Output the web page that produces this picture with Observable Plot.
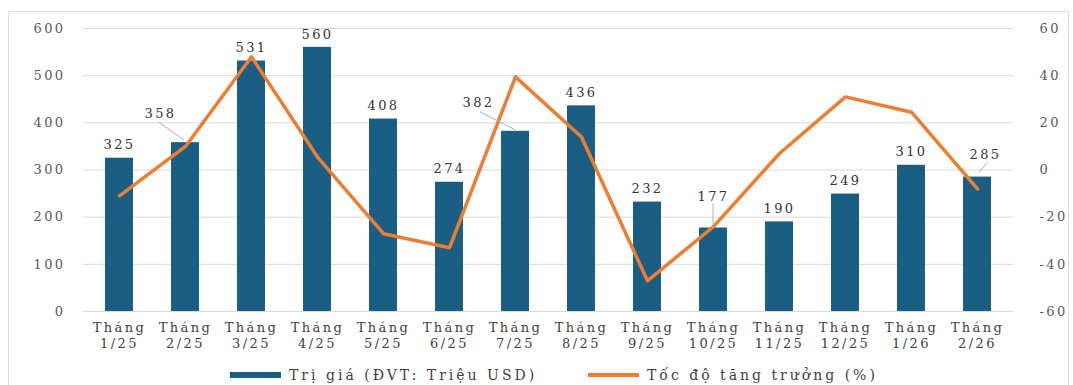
<!DOCTYPE html>
<html>
<head>
<meta charset="utf-8">
<script src="https://cdn.jsdelivr.net/npm/d3@7"></script>
<script src="https://cdn.jsdelivr.net/npm/@observablehq/plot@0.6"></script>
<style>
  body { margin: 0; background: #fff; }
  #wrap { position: relative; width: 1073px; height: 385px; overflow: hidden; font-family: "DejaVu Serif", "Liberation Serif", serif; }
  #frame { position: absolute; left: 8px; top: 11px; width: 1061px; height: 380px; border: 1px solid #dedede; box-sizing: border-box; pointer-events: none; }
  #chart svg text { letter-spacing: 2.4px; }
  .leg { position: absolute; top: 366px; height: 18px; display: flex; align-items: center; font-size: 14px; letter-spacing: 3px; color: #404040; white-space: nowrap; }
  .sw { display: inline-block; width: 51px; margin-right: 8px; }
</style>
</head>
<body>
<div id="wrap">
  <div id="chart"></div>
  <div id="frame"></div>
  <div class="leg" style="left:230px"><span class="sw" style="height:6px;background:#1B5E84"></span>Trị giá (ĐVT: Triệu USD)</div>
  <div class="leg" style="left:588px"><span class="sw" style="height:4px;background:#ED7D31"></span>Tốc độ tăng trưởng (%)</div>
</div>
<script>
// ---- data ----
const months = ["1/25","2/25","3/25","4/25","5/25","6/25","7/25","8/25","9/25","10/25","11/25","12/25","1/26","2/26"];
const values = [325, 358, 531, 560, 408, 274, 382, 436, 232, 177, 190, 249, 310, 285];
const growth = [-11, 10, 48, 5.5, -27, -33, 39.5, 14, -47, -24, 7, 31, 24.5, -8];
const leftTicks = [0, 100, 200, 300, 400, 500, 600];
const rightTicks = [-60, -40, -20, 0, 20, 40, 60];

// label placement (pixel offsets from bar top) for labels with leader lines
const labelOffsets = { "2/25": [-25, -29], "7/25": [-37, -28], "10/25": [0, -31], "2/26": [8, -22] };
const leaderLines = { "2/25": [-26, -20, -1, -2], "7/25": [-35, -19, 0, -1], "10/25": [0, -24, 0, 0], "2/26": [10, -14, 2, -4] };

// right axis (%) mapped onto the left axis domain
const toLeft = v => (v + 60) * 5;
const fromLeft = d => d / 5 - 60;

const data = months.map((m, i) => ({ month: m, value: values[i], growth: growth[i] }));

const BAR = "#1B5E84", LINE = "#ED7D31", TXT = "#333333", AX = "#595959";

const textMarks = [
  Plot.text(data.filter(d => !(d.month in labelOffsets)), {
    x: "month", y: "value", text: d => String(d.value), dy: -13, fill: TXT, fontSize: 13
  }),
  ...Object.entries(labelOffsets).map(([m, [dx, dy]]) =>
    Plot.text(data.filter(d => d.month === m), {
      x: "month", y: "value", text: d => String(d.value), dx, dy, fill: TXT, fontSize: 13
    }))
];

function leaders(index, scales) {
  const g = d3.create("svg:g").attr("stroke", "#9fb3c6").attr("stroke-width", 1);
  const x = scales.x, y = scales.y;
  const bw = typeof x.bandwidth === "function" ? x.bandwidth() : 0;
  for (const d of data) {
    const L = leaderLines[d.month];
    if (!L) continue;
    const cx = x(d.month) + bw / 2, ty = y(d.value);
    g.append("line").attr("x1", cx + L[0]).attr("y1", ty + L[1]).attr("x2", cx + L[2]).attr("y2", ty + L[3]);
  }
  return g.node();
}

const chart = Plot.plot({
  width: 1073,
  height: 355,
  marginLeft: 83,
  marginRight: 60,
  marginTop: 28,
  marginBottom: 44,
  style: { fontFamily: "DejaVu Serif, Liberation Serif, serif", fontSize: "13px", background: "transparent" },
  x: { type: "band", domain: months, paddingInner: 0.58, paddingOuter: 0.29, axis: null },
  y: { domain: [0, 600], axis: null },
  marks: [
    Plot.ruleY(leftTicks, { stroke: "#d9d9d9", strokeWidth: 1 }),
    Plot.barY(data, { x: "month", y: "value", fill: BAR }),
    Plot.line(data, { x: "month", y: d => toLeft(d.growth), stroke: LINE, strokeWidth: 3.5, strokeLinejoin: "round" }),
    leaders,
    ...textMarks,
    Plot.axisY(leftTicks, { anchor: "left", tickSize: 0, tickPadding: 18, fill: AX, label: null }),
    Plot.axisY(rightTicks.map(toLeft), { anchor: "right", tickSize: 0, tickPadding: 26, textAnchor: "start", fill: AX, label: null, tickFormat: d => String(fromLeft(d)) }),
    Plot.axisX(months, { anchor: "bottom", tickSize: 0, tickPadding: 9, fill: "#404040", label: null, lineHeight: 1.25, tickFormat: m => "Tháng\n" + m })
  ]
});
document.getElementById("chart").appendChild(chart);
</script>
</body>
</html>
